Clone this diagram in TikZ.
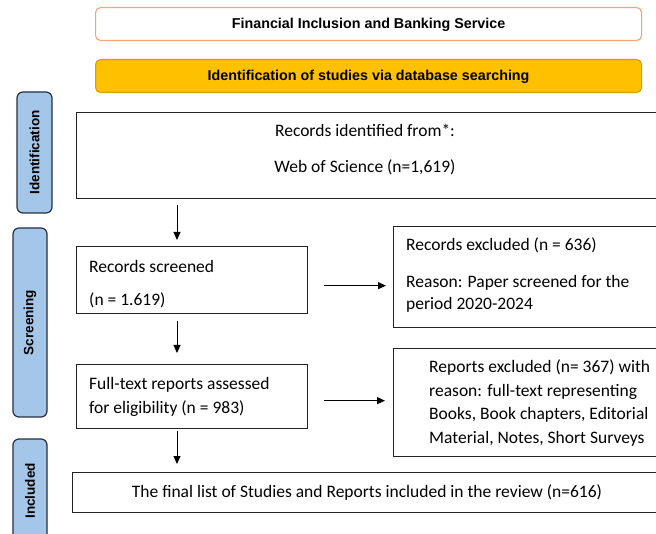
\documentclass[tikz,border=0pt]{standalone}
\usepackage{fontspec}
\setmainfont{Carlito}
\newfontfamily\headfont{Liberation Sans}
\usetikzlibrary{arrows.meta,positioning}

\definecolor{hdrorange}{RGB}{244,164,120}
\definecolor{hdryellow}{RGB}{255,192,0}
\definecolor{hdryellowline}{RGB}{214,160,0}
\definecolor{labfill}{RGB}{164,198,232}
\definecolor{labline}{RGB}{38,48,62}
\definecolor{boxline}{RGB}{34,34,34}

\tikzset{
  header/.style={rounded corners=5, line width=1.1, anchor=north west, inner sep=0},
  headtxt/.style={inner sep=0, yshift=-1, font=\headfont\bfseries\fontsize{14.3}{16}\selectfont},
  stagelab/.style={rounded corners=6, draw=labline, fill=labfill, line width=1.2,
    rotate=90, inner sep=0, font=\headfont\bfseries\fontsize{13.5}{15}\selectfont},
  flowbox/.style={draw=boxline, line width=1.3, anchor=north west, inner sep=0},
  txt/.style={inner sep=0, text height=12.5, text depth=3.5, yshift=-2,
    font=\fontsize{17.5}{20}\selectfont},
  arr/.style={line width=0.9, -{Triangle[length=8,width=7]}},
}

\begin{document}
\begin{tikzpicture}[x=1pt,y=-1pt]
\useasboundingbox (0,0) rectangle (656,534);
\fill[white] (0,0) rectangle (656,534);

% title bars
\node[header, draw=hdrorange, fill=white, minimum width=546, minimum height=33] (title) at (95,7) {};
\node[headtxt] (titletxt) at (title.center) {Financial Inclusion and Banking Service};
\node[header, draw=hdryellowline, fill=hdryellow, minimum width=546, minimum height=33] (search) at (95,59) {};
\node[headtxt] (searchtxt) at (search.center) {Identification of studies via database searching};

% stage labels on the left
\node[stagelab, minimum width=121, minimum height=35] (labid) at (34.5,152.5) {Identification};
\node[stagelab, minimum width=189, minimum height=34] (labscr) at (30,322.5) {Screening};
\node[stagelab, minimum width=104, minimum height=34] (labinc) at (30,491) {Included};

% flow boxes
\node[flowbox, minimum width=590, minimum height=86] (ident) at (76,112) {};
\node[flowbox, minimum width=231, minimum height=67] (scr) at (76,246) {};
\node[flowbox, minimum width=270, minimum height=101] (excl) at (393,226) {};
\node[flowbox, minimum width=231, minimum height=64] (full) at (76,364) {};
\node[flowbox, minimum width=270, minimum height=108] (rexcl) at (393,348) {};
\node[flowbox, minimum width=594, minimum height=40] (final) at (72,472) {};

% box texts
\node[txt] (identa) at (365,130) {Records identified from*:};
\node[txt] (identb) at (365,166) {Web of Science (n=1,619)};

\node[txt, anchor=west] (scra) at (89,266) {Records screened};
\node[txt, anchor=west] (scrb) at (89,299) {(n = 1.619)};

\node[txt, anchor=west] (excla) at (406,244) {Records excluded (n = 636)};
\node[txt, anchor=west] (exclb) at (406,281) {Reason: Paper screened for the};
\node[txt, anchor=west] (exclc) at (406,303) {period 2020-2024};

\node[txt, anchor=west] (fulla) at (89,383) {Full-text reports assessed};
\node[txt, anchor=west] (fullb) at (89,407) {for eligibility (n = 983)};

\node[txt, anchor=west] (rexa) at (429,366) {Reports excluded (n= 367) with};
\node[txt, anchor=west] (rexb) at (429,390) {reason: full-text representing};
\node[txt, anchor=west] (rexc) at (429,413) {Books, Book chapters, Editorial};
\node[txt, anchor=west] (rexd) at (429,437) {Material, Notes, Short Surveys};

\node[txt] (finala) at (367,491) {The final list of Studies and Reports included in the review (n=616)};

% connectors
\draw[arr, shorten <=6, shorten >=6]
  ([xshift=101]scr.north west |- ident.south) -- ([xshift=101]scr.north west);
\draw[arr, shorten <=7, shorten >=11]
  ([xshift=101]scr.south west) -- ([xshift=101]scr.south west |- full.north);
\draw[arr, shorten <=2, shorten >=8]
  ([xshift=101]full.south west) -- ([xshift=101]full.south west |- final.north);
\draw[arr, shorten <=16, shorten >=7]
  ([yshift=-5.5]scr.east) -- ([yshift=-5.5]scr.east -| excl.west);
\draw[arr, shorten <=16, shorten >=8]
  ([yshift=-4]full.east) -- ([yshift=-4]full.east -| rexcl.west);
\end{tikzpicture}
\end{document}
